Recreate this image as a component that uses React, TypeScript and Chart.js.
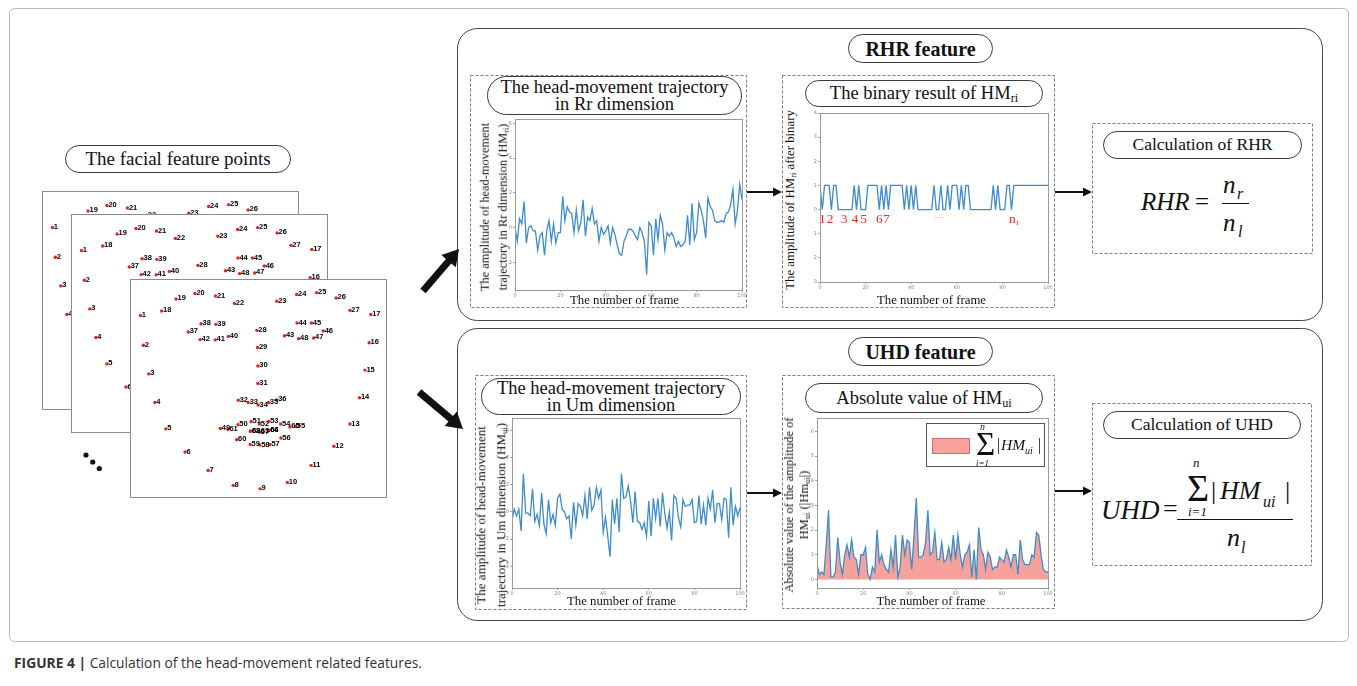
import React, { useEffect, useRef } from 'react';
import { Chart, registerables } from 'chart.js';
Chart.register(...registerables);
Chart.defaults.font.family = '"DejaVu Sans", sans-serif';

// ---------------- data ----------------
const frameTicks = [0, 20, 40, 60, 80, 100];

const rrValues = [
  0.0, -0.8, 0.5, 0.2, 1.5, -0.9, 0.0, 0.1, -0.2, -0.2,
  -1.3, -0.5, -0.3, -1.6, -0.2, 0.4, -0.8, 0.2, -0.9, -0.3,
  -0.3, 1.8, 0.4, 1.2, 0.9, 0.8, -0.3, 1.0, -0.2, 0.3,
  1.6, -0.5, 0.6, 0.4, 1.1, 0.2, 0.4, -0.8, 0.0, -0.4,
  -0.2, 0.1, -0.9, 0.0, -0.4, -1.0, -1.5, -1.6, -0.8, -0.5,
  -0.1, -0.1, -0.2, -0.5, -0.7, 0.0, -0.3, -0.8, -2.7, 0.3,
  0.1, -1.6, 0.5, -0.7, 0.7, 0.2, -1.3, -0.3, -0.5, -0.3,
  -0.6, -1.1, -0.8, -1.1, -1.0, -0.8, 0.7, -1.0, 1.4, -0.7,
  -0.3, 1.4, 1.0, 0.4, -0.6, 1.7, 1.2, 1.0, 0.4, 0.3,
  0.3, 0.4, 0.3, 0.8, 0.9, 1.3, 2.2, 0.2, 1.0, 2.5, 1.6,
];
const rrTicks = [-2, 0, 2, 4, 6];

const binaryValues = [
  1, 0, 1, 1, 1, 0, 1, 1, 0, 0,
  0, 0, 0, 0, 0, 1, 0, 1, 0, 0,
  0, 1, 1, 1, 1, 1, 0, 1, 0, 1,
  0, 1, 1, 1, 1, 1, 1, 0, 1, 0,
  1, 0, 1, 0, 0, 0, 0, 0, 0, 0,
  1, 0, 0, 1, 0, 0, 1, 0, 1, 1,
  1, 0, 1, 0, 1, 1, 0, 0, 0, 0,
  0, 0, 0, 0, 0, 0, 1, 0, 1, 0,
  0, 0, 1, 1, 0, 1, 1, 1, 1, 1,
  1, 1, 1, 1, 1, 1, 1, 1, 1, 1, 1,
];
const binaryTicks = [-3, -2, -1, 0, 1, 2, 3, 4];
const binaryMarkLabels = ['1', '2', '3', '4', '5', '6', '7', '...', 'n'];
const binaryMarkFrames = [1, 4.4, 10.6, 15.3, 19.1, 26, 29.1, 52.2, 84.4];

const umValues = [
  -0.6, 0.2, -0.3, 0.2, -1.4, 2.8, -0.1, -0.1, -0.3, 1.7,
  -0.7, -0.2, -1.0, 1.4, -0.9, -1.6, 0.9, -0.8, -0.2, -1.0,
  1.0, 1.3, 0.2, 0.0, -0.5, -0.3, -2.0, 0.7, -1.0, 0.6,
  0.4, -0.3, 1.2, -0.5, 1.8, 0.1, 0.5, 1.8, 1.0, 1.6,
  -1.5, -0.4, -1.8, -3.3, 0.9, -0.9, 1.0, -1.5, 2.8, 1.0,
  1.1, 1.9, 0.8, -0.8, 1.5, -0.7, -0.8, -1.3, -0.8, -1.8,
  0.8, -1.8, 1.0, -0.5, 1.0, -1.1, 1.4, -0.1, -1.2, 0.0,
  -2.1, 1.2, 1.0, -0.4, -1.1, 0.9, 0.4, 0.5, 0.5, 0.9,
  -0.8, -0.7, 1.2, -0.9, 0.5, -1.0, 1.0, 0.2, 1.6, -0.8,
  0.6, 0.6, -0.6, 1.0, 0.9, -1.9, 1.8, -1.0, 0.4, -0.3, 0.3,
];
const umTicks = [-4, -2, 0, 2, 4, 6];

const absValues = [
  0.6, 0.2, 0.3, 0.2, 1.4, 2.8, 0.1, 0.1, 0.3, 1.7,
  0.7, 0.2, 1.0, 1.4, 0.9, 1.6, 0.9, 0.8, 0.2, 1.0,
  1.0, 1.3, 0.2, 0.0, 0.5, 0.3, 2.0, 0.7, 1.0, 0.6,
  0.4, 0.3, 1.2, 0.5, 1.8, 0.1, 0.5, 1.8, 1.0, 1.6,
  1.5, 0.4, 1.8, 3.3, 0.9, 0.9, 1.0, 1.5, 2.8, 1.0,
  1.1, 1.9, 0.8, 0.8, 1.5, 0.7, 0.8, 1.3, 0.8, 1.8,
  0.8, 1.8, 1.0, 0.5, 1.0, 1.1, 1.4, 0.1, 1.2, 0.0,
  2.1, 1.2, 1.0, 0.4, 1.1, 0.9, 0.4, 0.5, 0.5, 0.9,
  0.8, 0.7, 1.2, 0.9, 0.5, 1.0, 1.0, 0.2, 1.6, 0.8,
  0.6, 0.6, 0.6, 1.0, 0.9, 1.9, 1.8, 1.0, 0.4, 0.3, 0.3,
];
const absTicks = [0, 1, 2, 3, 4, 5, 6];

// 68 facial landmarks (image units of one frame, 770 x 658)
const landmarkX = [
  17, 26, 43, 62, 96, 156, 228, 306, 390, 475, 549, 620, 670, 700, 717, 730, 735,
  83, 128, 187, 251, 310, 442, 504, 566, 627, 670,
  380, 382, 383, 383, 322, 353, 384, 416, 442,
  166, 206, 252, 291, 250, 203, 466, 505, 550, 587, 557, 510,
  266, 321, 362, 388, 417, 454, 500, 455, 421, 389, 359, 317,
  290, 360, 388, 417, 483, 417, 388, 360,
];
const landmarkY = [
  99, 193, 283, 373, 456, 529, 587, 634, 645, 625, 571, 511, 441, 358, 271, 185, 96,
  85, 47, 30, 38, 61, 54, 33, 27, 44, 83,
  146, 200, 258, 313, 366, 373, 381, 373, 365,
  151, 125, 127, 165, 176, 175, 163, 123, 123, 148, 170, 172,
  455, 443, 433, 441, 432, 441, 448, 485, 505, 507, 505, 490,
  458, 463, 465, 460, 450, 462, 466, 464,
];

// ---------------- helpers ----------------
const SERIF = '"Liberation Serif", "Times New Roman", serif';

const framePlugin = {
  id: 'frameBox',
  afterDraw(chart: any) {
    const { ctx, chartArea: a } = chart;
    ctx.save();
    ctx.strokeStyle = '#9a9a9a';
    ctx.lineWidth = 1;
    ctx.strokeRect(Math.round(a.left) + 0.5, Math.round(a.top) + 0.5, Math.round(a.right - a.left), Math.round(a.bottom - a.top));
    ctx.restore();
  },
};

const binaryMarksPlugin = {
  id: 'binaryMarks',
  afterDatasetsDraw(chart: any) {
    const { ctx } = chart;
    const xs = chart.scales.x;
    const ys = chart.scales.y;
    ctx.save();
    ctx.fillStyle = '#ec2a22';
    ctx.textAlign = 'center';
    ctx.textBaseline = 'alphabetic';
    binaryMarkLabels.forEach((lab, i) => {
      const px = xs.getPixelForValue(binaryMarkFrames[i]);
      const py = ys.getPixelForValue(-0.55);
      if (lab === '...') {
        ctx.font = `9px ${SERIF}`;
        ctx.fillText('\u00B7\u00B7\u00B7', px, py - 3);
      } else if (lab === 'n') {
        ctx.font = `13.5px ${SERIF}`;
        ctx.fillText('n', px, py);
        ctx.font = `8px ${SERIF}`;
        ctx.textAlign = 'left';
        ctx.fillText('r', px + 4, py + 2);
        ctx.textAlign = 'center';
      } else {
        ctx.font = `13.5px ${SERIF}`;
        ctx.fillText(lab, px, py);
      }
    });
    ctx.restore();
  },
};

type Plot = { l: number; t: number; r: number; b: number };

function LineChart(props: {
  plot: Plot; values: number[]; yMin: number; yMax: number; yTicks: number[]; fill?: boolean; marks?: boolean;
}) {
  const { plot, values, yMin, yMax, yTicks, fill, marks } = props;
  const ref = useRef<HTMLCanvasElement>(null);
  const padL = 16, padT = 4, padR = 7, padB = 12;
  const w = plot.r - plot.l + padL + padR;
  const h = plot.b - plot.t + padT + padB;
  useEffect(() => {
    const tickFont = { size: 5, family: '"DejaVu Sans", sans-serif' };
    const chart = new Chart(ref.current as HTMLCanvasElement, {
      type: 'line',
      data: {
        datasets: [{
          data: values.map((v, i) => ({ x: i, y: v })),
          borderColor: '#3d8ccb',
          borderWidth: 1.3,
          pointRadius: 0,
          tension: 0,
          fill: fill ? 'origin' : false,
          backgroundColor: fill ? '#f6a19c' : 'transparent',
        }],
      },
      options: {
        animation: false,
        responsive: false,
        events: [],
        layout: { padding: { top: padT, right: padR, left: 0, bottom: 0 } },
        plugins: { legend: { display: false }, tooltip: { enabled: false } },
        scales: {
          x: {
            type: 'linear', min: 0, max: 100,
            afterBuildTicks: (s: any) => { s.ticks = frameTicks.map((v) => ({ value: v })); },
            afterFit: (s: any) => { s.height = padB; },
            grid: { drawOnChartArea: false, tickLength: 2, color: '#a0a0a0' },
            border: { display: false },
            ticks: { font: tickFont, color: '#8a8a8a', padding: 1, maxRotation: 0, autoSkip: false },
          },
          y: {
            type: 'linear', min: yMin, max: yMax,
            afterBuildTicks: (s: any) => { s.ticks = yTicks.map((v) => ({ value: v })); },
            afterFit: (s: any) => { s.width = padL; },
            grid: { drawOnChartArea: false, tickLength: 2, color: '#a0a0a0' },
            border: { display: false },
            ticks: { font: tickFont, color: '#8a8a8a', padding: 1, autoSkip: false },
          },
        },
      } as any,
      plugins: marks ? [framePlugin, binaryMarksPlugin] : [framePlugin],
    });
    return () => chart.destroy();
  }, []);
  return (
    <canvas
      ref={ref}
      width={w}
      height={h}
      style={{ position: 'absolute', left: plot.l - padL, top: plot.t - padT, width: w, height: h }}
    />
  );
}

const landmarkLabelPlugin = {
  id: 'landmarkLabels',
  afterDatasetsDraw(chart: any) {
    const { ctx } = chart;
    const xs = chart.scales.x;
    const ys = chart.scales.y;
    ctx.save();
    ctx.fillStyle = '#000';
    ctx.font = 'bold 7.5px "Liberation Sans", Arial, sans-serif';
    ctx.textBaseline = 'alphabetic';
    landmarkX.forEach((x, i) => {
      ctx.fillText(String(i + 1), xs.getPixelForValue(x) + 1.4, ys.getPixelForValue(landmarkY[i]) + 1.5);
    });
    ctx.restore();
  },
};

function FaceFrame({ left, top }: { left: number; top: number }) {
  const ref = useRef<HTMLCanvasElement>(null);
  const W = 255, H = 217;
  useEffect(() => {
    const chart = new Chart(ref.current as HTMLCanvasElement, {
      type: 'scatter',
      data: {
        datasets: [{
          data: landmarkX.map((x, i) => ({ x, y: landmarkY[i] })),
          pointRadius: 1.7,
          pointBackgroundColor: '#e3231c',
          pointBorderWidth: 0,
        }],
      },
      options: {
        animation: false,
        responsive: false,
        events: [],
        layout: { padding: 0 },
        plugins: { legend: { display: false }, tooltip: { enabled: false } },
        scales: {
          x: { type: 'linear', min: 0, max: 770, display: false },
          y: { type: 'linear', min: 0, max: 658, reverse: true, display: false },
        },
      } as any,
      plugins: [landmarkLabelPlugin],
    });
    return () => chart.destroy();
  }, []);
  return (
    <div style={{ position: 'absolute', left, top, width: W + 2, height: H + 2, boxSizing: 'border-box', border: '1px solid #8c8c8c', background: '#fff' }}>
      <canvas ref={ref} width={W} height={H} style={{ display: 'block', width: W, height: H }} />
    </div>
  );
}

const Sub = ({ children }: { children: any }) => (
  <span style={{ fontSize: '0.66em', verticalAlign: '-0.25em', lineHeight: 0 }}>{children}</span>
);

function Pill(props: { x: number; y: number; w: number; h: number; size: number; bold?: boolean; lh?: number; children: any }) {
  const { x, y, w, h, size, bold, lh, children } = props;
  return (
    <div style={{
      position: 'absolute', left: x, top: y, width: w, height: h, boxSizing: 'border-box',
      border: '1px solid #3a3a3a', borderRadius: h / 2, display: 'flex', alignItems: 'center',
      justifyContent: 'center', textAlign: 'center', fontFamily: SERIF, fontSize: size,
      fontWeight: bold ? 700 : 400, lineHeight: lh ? `${lh}px` : 1.1, color: '#111', background: '#fff',
    }}>
      <div>{children}</div>
    </div>
  );
}

function Txt(props: { x: number; y: number; size: number; italic?: boolean; bold?: boolean; family?: string; color?: string; children: any }) {
  const { x, y, size, italic, bold, family, color, children } = props;
  return (
    <div style={{
      position: 'absolute', left: x, top: y - 0.84 * size, fontSize: size, lineHeight: `${size}px`,
      fontFamily: family || SERIF, fontStyle: italic ? 'italic' : 'normal', fontWeight: bold ? 700 : 400,
      color: color || '#111', whiteSpace: 'nowrap',
    }}>{children}</div>
  );
}

function RotTitle({ cx, cy, size, lh, children }: { cx: number; cy: number; size: number; lh: number; children: any }) {
  return (
    <div style={{
      position: 'absolute', left: cx, top: cy, transform: 'translate(-50%,-50%) rotate(-90deg)',
      fontFamily: SERIF, fontSize: size, lineHeight: `${lh}px`, whiteSpace: 'nowrap', textAlign: 'center', color: '#111',
    }}>{children}</div>
  );
}

function XTitle({ cx, cy, size }: { cx: number; cy: number; size: number }) {
  return (
    <div style={{
      position: 'absolute', left: cx, top: cy, transform: 'translate(-50%,-50%)', fontFamily: SERIF,
      fontSize: size, lineHeight: 1, whiteSpace: 'nowrap', color: '#111',
    }}>The number of frame</div>
  );
}

function blockArrow(x1: number, y1: number, x2: number, y2: number, sw: number, hw: number, hl: number) {
  const L = Math.hypot(x2 - x1, y2 - y1);
  const dx = (x2 - x1) / L, dy = (y2 - y1) / L;
  const nx = -dy, ny = dx;
  const bx = x2 - dx * hl, by = y2 - dy * hl;
  const pts = [
    [x1 + nx * sw / 2, y1 + ny * sw / 2], [bx + nx * sw / 2, by + ny * sw / 2], [bx + nx * hw / 2, by + ny * hw / 2],
    [x2, y2], [bx - nx * hw / 2, by - ny * hw / 2], [bx - nx * sw / 2, by - ny * sw / 2], [x1 - nx * sw / 2, y1 - ny * sw / 2],
  ];
  return pts.map((p) => p.map((v) => v.toFixed(1)).join(',')).join(' ');
}

export default function App() {
  const dash = { fill: 'none', stroke: '#7a7a7a', strokeWidth: 1, strokeDasharray: '3 2' } as any;
  return (
    <div style={{ position: 'fixed', left: 0, top: 0, width: 1357, height: 686, background: '#fff', overflow: 'hidden' }}>
      <svg width={1357} height={686} style={{ position: 'absolute', left: 0, top: 0 }}>
        <rect x={9.5} y={8.5} width={1339} height={633} rx={5} fill="none" stroke="#b8b8b8" />
        <rect x={457.5} y={28.5} width={865} height={292} rx={20} fill="none" stroke="#444" />
        <rect x={457.5} y={328.5} width={865} height={292} rx={20} fill="none" stroke="#444" />
        <rect x={470.5} y={75.5} width={276} height={232} {...dash} />
        <rect x={782.5} y={75.5} width={272} height={232} {...dash} />
        <rect x={475.5} y={375.5} width={271} height={234} {...dash} />
        <rect x={782.5} y={375.5} width={272} height={233} {...dash} />
        <rect x={1092.5} y={123.5} width={220} height={130} {...dash} />
        <rect x={1092.5} y={403.5} width={219} height={162} {...dash} />
        <polygon points={blockArrow(423, 291, 459, 249, 7, 19, 16)} fill="#111" />
        <polygon points={blockArrow(419, 392, 463, 429, 7, 19, 16)} fill="#111" />
        <polygon points={blockArrow(747, 192, 782, 192, 2, 9, 9)} fill="#111" />
        <polygon points={blockArrow(1055, 192, 1092, 192, 2, 9, 9)} fill="#111" />
        <polygon points={blockArrow(747, 493, 782, 493, 2, 9, 9)} fill="#111" />
        <polygon points={blockArrow(1055, 491, 1092, 491, 2, 9, 9)} fill="#111" />
        <circle cx={86} cy={455} r={2.6} fill="#111" />
        <circle cx={92.7} cy={462} r={2.6} fill="#111" />
        <circle cx={99.3} cy={468.5} r={2.6} fill="#111" />
      </svg>

      {/* facial feature points */}
      <Pill x={65} y={145} w={226} h={28} size={19}>The facial feature points</Pill>
      <FaceFrame left={42} top={191} />
      <FaceFrame left={71} top={214} />
      <FaceFrame left={130} top={279} />

      {/* panel titles */}
      <Pill x={848} y={34} w={145} h={29} size={20} bold>RHR feature</Pill>
      <Pill x={848} y={337} w={145} h={29} size={20} bold>UHD feature</Pill>

      {/* RHR: trajectory Rr */}
      <Pill x={487} y={76} w={255} h={39} size={18.5} lh={17}>The head-movement trajectory<br />in Rr dimension</Pill>
      <LineChart plot={{ l: 515, t: 119, r: 742, b: 290 }} values={rrValues} yMin={-3.6} yMax={6.25} yTicks={rrTicks} />
      <RotTitle cx={494} cy={207} size={12.4} lh={18.3}>The amplitude of head-movement<br />trajectory in Rr dimension (HM<Sub>ri</Sub>)</RotTitle>
      <XTitle cx={624.5} cy={300} size={12.8} />

      {/* RHR: binary */}
      <Pill x={805} y={80} w={238} h={27} size={18.5}>The binary result of HM<Sub>ri</Sub></Pill>
      <LineChart plot={{ l: 820, t: 113, r: 1048, b: 282 }} values={binaryValues} yMin={-3} yMax={4} yTicks={binaryTicks} marks />
      <RotTitle cx={790} cy={200} size={12.8} lh={15}>The amplitude of HM<Sub>ri</Sub> after binary</RotTitle>
      <XTitle cx={931.5} cy={300} size={12.8} />

      {/* RHR calc */}
      <Pill x={1103} y={131} w={199} h={28} size={17.5}>Calculation of RHR</Pill>
      <Txt x={1141} y={210} size={25} italic>RHR</Txt>
      <Txt x={1195} y={210} size={25}>=</Txt>
      <div style={{ position: 'absolute', left: 1222, top: 202.5, width: 27, height: 1.3, background: '#111' }} />
      <Txt x={1223} y={193} size={25} italic>n</Txt>
      <Txt x={1237} y={199} size={16} italic>r</Txt>
      <Txt x={1223} y={231} size={25} italic>n</Txt>
      <Txt x={1238} y={237} size={16} italic>l</Txt>

      {/* UHD: trajectory Um */}
      <Pill x={481} y={378} w={260} h={37} size={18.5} lh={17}>The head-movement trajectory<br />in Um dimension</Pill>
      <LineChart plot={{ l: 512, t: 418, r: 740, b: 588 }} values={umValues} yMin={-5.6} yMax={6.9} yTicks={umTicks} />
      <RotTitle cx={491} cy={515} size={13.1} lh={19.7}>The amplitude of head-movement<br />trajectory in Um dimension (HM<Sub>ui</Sub>)</RotTitle>
      <XTitle cx={621.5} cy={601} size={12.8} />

      {/* UHD: absolute values */}
      <Pill x={805} y={383} w={238} h={30} size={18.5}>Absolute value of HM<Sub>ui</Sub></Pill>
      <LineChart plot={{ l: 817, t: 418, r: 1048, b: 588 }} values={absValues} yMin={-0.35} yMax={6.55} yTicks={absTicks} fill />
      <RotTitle cx={797} cy={505} size={12.6} lh={15}>Absolute value of the amplitude of<br />HM<Sub>ui</Sub> (|Hm<Sub>ui</Sub>|)</RotTitle>
      <XTitle cx={931} cy={601} size={12.8} />
      <div style={{ position: 'absolute', left: 926, top: 423, width: 119, height: 44, boxSizing: 'border-box', border: '1px solid #555', background: '#fff' }} />
      <div style={{ position: 'absolute', left: 932, top: 438, width: 38, height: 16, boxSizing: 'border-box', border: '1px solid #d0706a', background: '#f7a29e' }} />
      <Txt x={976} y={456} size={33}>Σ</Txt>
      <Txt x={980} y={430} size={10} italic>n</Txt>
      <Txt x={976} y={467} size={9} italic>i=1</Txt>
      <Txt x={997} y={450} size={16}>|</Txt>
      <Txt x={1001} y={450} size={15.5} italic>HM</Txt>
      <Txt x={1025} y={454} size={10} italic>ui</Txt>
      <Txt x={1038} y={450} size={16}>|</Txt>

      {/* UHD calc */}
      <Pill x={1103} y={411} w={198} h={28} size={17.5}>Calculation of UHD</Pill>
      <Txt x={1101} y={520} size={27} italic>UHD</Txt>
      <Txt x={1163} y={518} size={26}>=</Txt>
      <div style={{ position: 'absolute', left: 1177, top: 518.5, width: 116, height: 1.3, background: '#111' }} />
      <Txt x={1187} y={501} size={38}>Σ</Txt>
      <Txt x={1193} y={467} size={13} italic>n</Txt>
      <Txt x={1188} y={516} size={13} italic>i=1</Txt>
      <Txt x={1211} y={500} size={26}>|</Txt>
      <Txt x={1220} y={500} size={26} italic>HM</Txt>
      <Txt x={1263} y={507} size={16} italic>ui</Txt>
      <Txt x={1285} y={500} size={26}>|</Txt>
      <Txt x={1227} y={547} size={26} italic>n</Txt>
      <Txt x={1241} y={553} size={16} italic>l</Txt>

      {/* caption */}
      <Txt x={14} y={668} size={13.8} family={'"Open Sans", sans-serif'} color="#333">
        <b>FIGURE 4 |</b> Calculation of the head-movement related features.
      </Txt>
    </div>
  );
}
